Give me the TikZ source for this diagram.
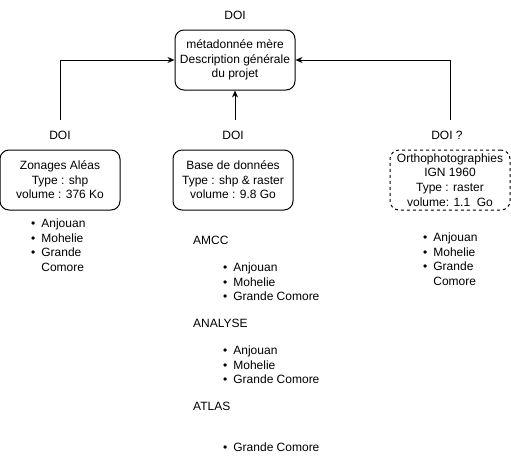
\documentclass[tikz,border=0pt]{standalone}
\usepackage{fontspec}
\setmainfont{Liberation Sans}
\usetikzlibrary{arrows.meta,positioning,calc}

\tikzset{
  boite/.style={draw, rounded corners=9pt, line width=1pt, minimum width=120pt,
    minimum height=60pt, align=center, inner sep=0pt},
  pointille/.style={boite, dash pattern=on 3pt off 3pt},
  etiquette/.style={minimum height=30pt, inner sep=0pt},
  lien/.style={line width=1pt, -{Stealth[length=7pt,width=6pt]}},
  liste/.style={anchor=base west, inner sep=0pt}
}
\newcommand{\puces}[1]{\begin{tabular}[t]{@{}l@{\hspace{6pt}}l@{}}#1\end{tabular}}

\begin{document}
\begin{tikzpicture}[x=1pt,y=-1pt, font=\fontsize{12}{14.6}\selectfont]
  \useasboundingbox (0,0) rectangle (511,475);
  % fiche mere
  \node[boite] (racine) at (235,60) {métadonnée mère\\Description générale\\du projet};
  \node[etiquette] (doiracine) at (235,15) {DOI};
  % les trois jeux de donnees
  \node[boite] (zonages) at (60,180) {Zonages Aléas\\Type : shp\\volume : 376 Ko};
  \node[boite] (base) at (233,180) {Base de données\\Type : shp \& raster\\volume : 9.8 Go};
  \node[pointille] (ortho) at (450,180) {Orthophotographies\\IGN 1960\\Type : raster\\volume: 1.1~~Go};
  \node[etiquette] (doizon) at (60,135) {DOI};
  \node[etiquette] (doibase) at (233,135) {DOI};
  \node[etiquette] (doiortho) at (447,135) {DOI ?};

  \draw[lien] (doizon.north -| zonages) |- (racine.west);
  \draw[lien] (doibase.north -| racine) -- (racine.south);
  \draw[lien] (doiortho.north -| ortho) |- (racine.east);

  % iles
  \node[liste] (ileszon) at (31,227.5) {\puces{\textbullet & Anjouan\\ \textbullet & Mohelie\\ \textbullet & Grande\\ & Comore}};
  \node[liste] (ilesortho) at (423,241.5) {\puces{\textbullet & Anjouan\\ \textbullet & Mohelie\\ \textbullet & Grande\\ & Comore}};

  \node[liste] (amcc) at (193,244.5) {AMCC};
  \node[liste] (ilesamcc) at (223,271.5) {\puces{\textbullet & Anjouan\\ \textbullet & Mohelie\\ \textbullet & Grande Comore}};
  \node[liste] (analyse) at (193,327.5) {ANALYSE};
  \node[liste] (ilesanalyse) at (223,354.5) {\puces{\textbullet & Anjouan\\ \textbullet & Mohelie\\ \textbullet & Grande Comore}};
  \node[liste] (atlas) at (193,410.5) {ATLAS};
  \node[liste] (ilesatlas) at (223,451.5) {\puces{\textbullet & Grande Comore}};
\end{tikzpicture}
\end{document}
